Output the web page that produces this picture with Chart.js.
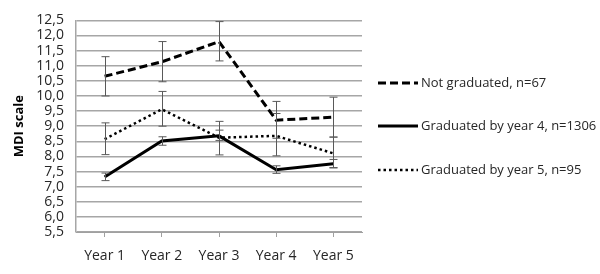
<!DOCTYPE html>
<html>
<head>
<meta charset="utf-8">
<script src="https://cdn.jsdelivr.net/npm/chart.js@4"></script>
<style>
  html, body { margin: 0; padding: 0; background: #fff; }
  #wrap { width: 600px; height: 274px; }
</style>
</head>
<body>
<div id="wrap"><canvas id="mdi"></canvas></div>
<script>
// Data
const years = ['Year 1', 'Year 2', 'Year 3', 'Year 4', 'Year 5'];

const notGraduated = [10.65, 11.13, 11.8, 9.2, 9.3];
const notGraduatedLow = [10.0, 10.47, 11.16, 8.6, 8.64];
const notGraduatedHigh = [11.3, 11.8, 12.46, 9.82, 9.96];

const gradYear4 = [7.32, 8.51, 8.68, 7.56, 7.76];
const gradYear4Low = [7.2, 8.37, 8.53, 7.44, 7.63];
const gradYear4High = [7.45, 8.65, 8.87, 7.69, 7.9];

const gradYear5 = [8.57, 9.56, 8.62, 8.68, 8.1];
const gradYear5Low = [8.06, 9.0, 8.05, 8.02, 7.62];
const gradYear5High = [9.11, 10.15, 9.16, 9.42, 8.64];

const FONT = '"Open Sans", sans-serif';
Chart.defaults.font.family = FONT;
Chart.defaults.font.size = 14;
Chart.defaults.color = '#262626';

// Error bars drawn through the chart's scales
const errorBars = {
    id: 'errorBars',
    afterDatasetsDraw(chart) {
        const ctx = chart.ctx;
        const x = chart.scales.x, y = chart.scales.y;
        ctx.save();
        ctx.strokeStyle = '#595959';
        ctx.lineWidth = 1;
        ctx.setLineDash([]);
        chart.data.datasets.forEach(ds => {
            ds.data.forEach((v, i) => {
                const px = Math.round(x.getPixelForValue(i)) + 0.5;
                const top = y.getPixelForValue(ds.errHigh[i]);
                const bot = y.getPixelForValue(ds.errLow[i]);
                ctx.beginPath();
                ctx.moveTo(px, top); ctx.lineTo(px, bot);
                ctx.moveTo(px - 4, top); ctx.lineTo(px + 4, top);
                ctx.moveTo(px - 4, bot); ctx.lineTo(px + 4, bot);
                ctx.stroke();
            });
        });
        ctx.restore();
    }
};

// Legend to the right of the plot, line samples use each dataset's dash
const sideLegend = {
    id: 'sideLegend',
    afterDraw(chart) {
        const ctx = chart.ctx;
        const area = chart.chartArea;
        const sets = chart.data.datasets;
        const gap = 43.5;
        const mid = (area.top + area.bottom) / 2;
        const x0 = 378, x1 = 418;
        ctx.save();
        ctx.font = '13px ' + FONT;
        ctx.textBaseline = 'middle';
        ctx.fillStyle = '#262626';
        sets.forEach((ds, i) => {
            const yy = Math.round(mid + (i - (sets.length - 1) / 2) * gap);
            ctx.strokeStyle = ds.borderColor;
            ctx.lineWidth = ds.borderWidth;
            ctx.lineCap = ds.borderCapStyle || 'butt';
            ctx.setLineDash(ds.borderDash || []);
            ctx.beginPath();
            ctx.moveTo(x0, yy); ctx.lineTo(x1, yy);
            ctx.stroke();
            ctx.fillText(ds.label, x1 + 3, yy);
        });
        ctx.restore();
    }
};

function makeSet(label, values, low, high, dash, width, cap) {
    return {
        label: label,
        data: values,
        errLow: low,
        errHigh: high,
        borderColor: '#000',
        backgroundColor: '#000',
        borderWidth: width,
        borderDash: dash,
        borderCapStyle: cap,
        pointRadius: 0,
        tension: 0,
        fill: false
    };
}

new Chart(document.getElementById('mdi'), {
    type: 'line',
    data: {
        labels: years,
        datasets: [
            makeSet('Not graduated, n=67', notGraduated, notGraduatedLow, notGraduatedHigh, [8, 4], 3, 'butt'),
            makeSet('Graduated by year 4, n=1306', gradYear4, gradYear4Low, gradYear4High, [], 3, 'butt'),
            makeSet('Graduated by year 5, n=95', gradYear5, gradYear5Low, gradYear5High, [2.5, 3], 2.5, 'butt')
        ]
    },
    options: {
        responsive: true,
        maintainAspectRatio: false,
        animation: false,
        layout: { padding: { top: 18, right: 238, bottom: 0, left: 0 } },
        plugins: {
            legend: { display: false },
            tooltip: { enabled: false }
        },
        scales: {
            x: {
                offset: true,
                grid: {
                    offset: false,
                    drawOnChartArea: false,
                    drawTicks: true,
                    tickLength: 5,
                    color: '#a0a0a0'
                },
                border: { color: '#a0a0a0' },
                ticks: { padding: 11, color: '#262626' },
                afterFit(scale) { scale.height = 42; }
            },
            y: {
                min: 5.5,
                max: 12.5,
                ticks: {
                    stepSize: 0.5,
                    autoSkip: false,
                    padding: 12,
                    color: '#262626',
                    callback: v => v.toFixed(1).replace('.', ',')
                },
                grid: { color: '#a6a6a6', lineWidth: 1.5, drawTicks: false },
                border: { color: '#a6a6a6', width: 1.5 },
                title: {
                    display: true,
                    text: 'MDI scale',
                    font: { size: 13, weight: 'bold' },
                    color: '#000',
                    padding: { top: 11, bottom: 0 }
                },
                afterFit(scale) { scale.width = 76; }
            }
        }
    },
    plugins: [errorBars, sideLegend]
});
</script>
</body>
</html>
